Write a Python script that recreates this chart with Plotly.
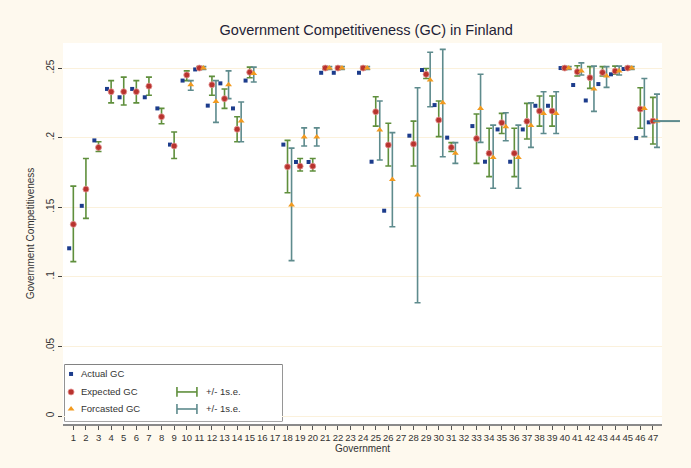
import numpy as np
import plotly.graph_objects as go

nan = None
gov = list(range(1, 48))
gov_labels = [str(g) for g in gov]

actual = [.1205, .151, .198, .235, .229, .235, .229, .221, .195, .241,
          .249, .223, .239, .221, .241, nan, nan, .195, .1825, .1825,
          .2466, .2466, nan, .2466, .1827, .1475, nan, .2014, .2486, .2234,
          .200, nan, .2083, .1827, .2059, .1827, .2059, .2229, .2229, .25,
          .2378, .2267, .2385, .2455, .2493, .1997, .211]
expected = [.1377, .163, .193, .233, .233, .233, .237, .215, .194, .245,
            .25, .238, .228, .206, .247, nan, nan, .179, .1795, .1795,
            .25, .25, nan, .25, .2186, .1947, nan, .1954, .2455, .2126,
            .193, nan, .1993, .1887, .2107, .1887, .2117, .2191, .2191, .25,
            .2473, .2431, .2468, .2478, .25, .2205, .2119]
exp_lo = [.1109, .142, .19, .225, .2235, .225, .2305, .21, .185, .241,
          .249, .2305, .221, .197, .243, nan, nan, .1604, .176, .176,
          .249, .249, nan, .249, .2083, .1796, nan, .1796, .2425, .2007,
          .19, nan, .1815, .172, .203, .172, .199, .2083, .2083, .249,
          .2443, .2354, .2443, .2455, .249, .2067, .1954]
exp_hi = [.1652, .185, .197, .241, .2435, .241, .2435, .221, .204, .248,
          .251, .244, .235, .215, .2507, nan, nan, .198, .185, .185,
          .251, .251, nan, .251, .2294, .2103, nan, .2119, .2497, .2263,
          .1964, nan, .217, .2067, .2174, .2067, .2246, .2299, .2299, .251,
          .2517, .251, .251, .2514, .251, .2358, .2289]
forecast = [nan, nan, nan, nan, nan, nan, nan, nan, nan, .238,
            .25, .226, .238, .212, .246, nan, nan, .1516, .2004, .2004,
            .25, .25, nan, .25, .2055, .170, nan, .1588, .2414, .2251,
            .1887, nan, .221, .1858, .2078, .1858, .2087, .2174, .2174, .25,
            .2478, .2349, .2443, .2478, .25, .221, .212]
fc_lo = [nan, nan, nan, nan, nan, nan, nan, nan, nan, .234,
         .249, .211, .228, .197, .240, nan, nan, .1116, .194, .194,
         .249, .249, nan, .249, .1839, .136, nan, .0814, .2222, .1863,
         .1815, nan, .1966, .1636, .1978, .1636, .193, .203, .203, .249,
         .245, .2189, .2361, .245, .249, .2007, .193]
fc_hi = [nan, nan, nan, nan, nan, nan, nan, nan, nan, .241,
         .251, .241, .248, .2256, .2507, nan, nan, .1925, .207, .207,
         .251, .251, nan, .251, .2263, .2036, nan, .2358, .2613, .2634,
         .1964, nan, .2455, .209, .2179, .209, .225, .233, .233, .251,
         .2537, .2514, .251, .2514, .251, .2425, .2313]

y_tickvals = [0, .05, .1, .15, .2, .25]
y_ticktext = ["0", ".05", ".1", ".15", ".2", ".25"]


def arr(v):
    return np.array([np.nan if x is None else x for x in v], dtype=float)


g = np.array(gov, dtype=float)
A, E, El, Eh = arr(actual), arr(expected), arr(exp_lo), arr(exp_hi)
F, Fl, Fh = arr(forecast), arr(fc_lo), arr(fc_hi)

GREEN = "#5f8f3c"
TEAL = "#5e8b8d"
BLUE = "#1c3c8c"
RED = "#b8332e"
ORANGE = "#f29a1f"
CREAM = "#fef9ee"
XOFF_A = -0.33
XOFF_F = 0.32

fig = go.Figure()

# error bars
fig.add_trace(go.Scatter(
    x=g, y=E, mode="markers", marker=dict(size=1, color="rgba(0,0,0,0)"),
    error_y=dict(type="data", array=Eh - E, arrayminus=E - El, color=GREEN,
                 thickness=1.6, width=3),
    showlegend=False, hoverinfo="skip"))
fig.add_trace(go.Scatter(
    x=g + XOFF_F, y=F, mode="markers", marker=dict(size=1, color="rgba(0,0,0,0)"),
    error_y=dict(type="data", array=Fh - F, arrayminus=F - Fl, color=TEAL,
                 thickness=1.6, width=3),
    showlegend=False, hoverinfo="skip"))

# markers
fig.add_trace(go.Scatter(
    x=g + XOFF_A, y=A, mode="markers",
    marker=dict(symbol="square", size=4, color=BLUE), showlegend=False))
fig.add_trace(go.Scatter(
    x=g, y=E, mode="markers",
    marker=dict(symbol="circle", size=6, color=RED,
                line=dict(color="rgba(230,150,150,0.8)", width=1)),
    showlegend=False))
fig.add_trace(go.Scatter(
    x=g + XOFF_F, y=F, mode="markers",
    marker=dict(symbol="triangle-up", size=6, color=ORANGE), showlegend=False))

# axis geometry
xr = [0.18, 47.72]
yr = [-0.00575, 0.268]

# extension line at last government
last = len(gov) - 1
x_last_paper = (g[last] - xr[0]) / (xr[1] - xr[0])
fig.add_shape(type="line", xref="paper", yref="y",
              x0=x_last_paper, x1=1.03, y0=E[last], y1=E[last],
              line=dict(color=TEAL, width=2), layer="above")

# custom legend (box in paper coords)
box = dict(x0=0.0033, x1=0.3656, y0=0.0079, y1=0.155)
fig.add_shape(type="rect", xref="paper", yref="paper", **box,
              line=dict(color="#505050", width=1.2), fillcolor="white",
              layer="between")

rows = [0.839, 0.518, 0.214]
fig.add_trace(go.Scatter(x=[0.028], y=[rows[0]], xaxis="x2", yaxis="y2", mode="markers",
                         marker=dict(symbol="square", size=4, color=BLUE), showlegend=False))
fig.add_trace(go.Scatter(x=[0.028], y=[rows[1]], xaxis="x2", yaxis="y2", mode="markers",
                         marker=dict(symbol="circle", size=6, color=RED,
                                     line=dict(color="rgba(230,150,150,0.8)", width=1)),
                         showlegend=False))
fig.add_trace(go.Scatter(x=[0.028], y=[rows[2]], xaxis="x2", yaxis="y2", mode="markers",
                         marker=dict(symbol="triangle-up", size=6, color=ORANGE), showlegend=False))
for r, c in [(rows[1], GREEN), (rows[2], TEAL)]:
    fig.add_trace(go.Scatter(x=[0.516, 0.608], y=[r, r], xaxis="x2", yaxis="y2",
                             mode="lines+markers", line=dict(color=c, width=1.6),
                             marker=dict(symbol="line-ns-open", size=7,
                                         line=dict(color=c, width=1.6)),
                             showlegend=False))

leg_font = dict(family="Liberation Sans, Arial, sans-serif", size=9.5, color="#333333")
leg_texts = [("Actual GC", 0.066, rows[0]), ("Expected GC", 0.066, rows[1]),
             ("Forcasted GC", 0.066, rows[2]), ("+/- 1s.e.", 0.64, rows[1]),
             ("+/- 1s.e.", 0.64, rows[2])]
for t, xx, yy in leg_texts:
    fig.add_annotation(text=t, x=xx, y=yy, xref="x2", yref="y2", showarrow=False,
                       xanchor="left", yanchor="middle", font=leg_font)

font = dict(family="Liberation Sans, Arial, sans-serif", color="#333333")

fig.update_layout(
    width=691, height=468,
    margin=dict(l=63, r=29, t=43, b=44),
    paper_bgcolor=CREAM, plot_bgcolor="white",
    font=font,
    title=dict(text="Government Competitiveness (GC) in Finland",
               x=0.53, xanchor="center", y=0.936, yanchor="middle",
               font=dict(family="Liberation Sans, Arial, sans-serif", size=14.5, color="#1e2236")),
    xaxis=dict(range=xr, tickmode="array", tickvals=gov, ticktext=gov_labels,
               tickfont=dict(size=9.5, color="#333333"), ticks="outside", ticklen=4,
               tickcolor="#555555", showgrid=False, zeroline=False,
               showline=True, linecolor="#8a8a8a", linewidth=1.5, tickangle=0,
               title=dict(text="Government", font=dict(size=10, color="#333333"), standoff=2)),
    yaxis=dict(range=yr, tickmode="array", tickvals=y_tickvals, ticktext=y_ticktext,
               tickangle=-90, tickfont=dict(size=10, color="#333333"),
               ticks="outside", ticklen=4, tickcolor="#444444",
               showgrid=True, gridcolor="#fbf1dc", gridwidth=1, zeroline=False,
               showline=False,
               title=dict(text="Government Competitiveness", font=dict(size=10, color="#333333"),
                          standoff=8)),
    xaxis2=dict(domain=[box["x0"], box["x1"]], range=[0, 1], visible=False, anchor="y2"),
    yaxis2=dict(domain=[box["y0"], box["y1"]], range=[0, 1], visible=False, anchor="x2"),
)

fig.write_html("out.html", config={"displayModeBar": False},
               post_script="document.body.style.margin='0';document.body.style.overflow='hidden';")
